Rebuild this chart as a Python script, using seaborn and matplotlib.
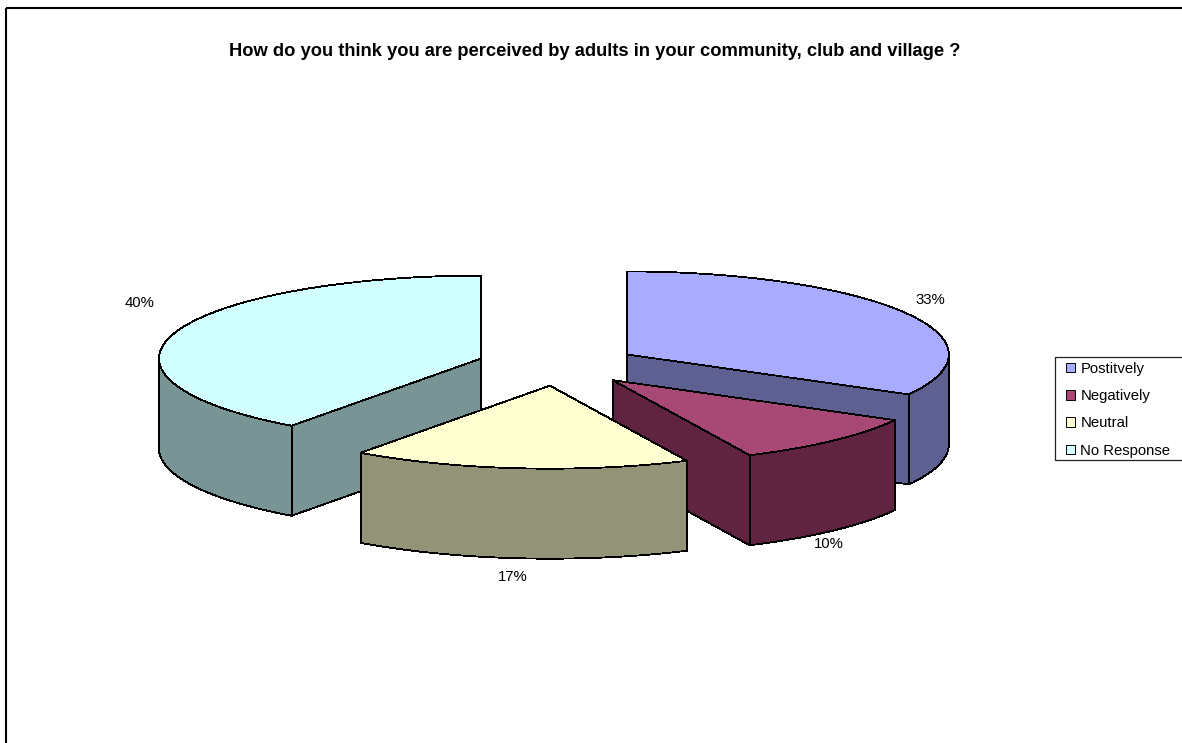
""" Exploded 3D style pie: how young people feel adults perceive them. """

import numpy as np
import matplotlib
matplotlib.use("Agg")
import matplotlib.pyplot as plt
from matplotlib.patches import Patch, Polygon, Rectangle
import seaborn as sns

# data
categories = ["Postitvely", "Negatively", "Neutral", "No Response"]
shares = [33, 10, 17, 40]
top_colors = ["#a8abff", "#a84874", "#ffffd2", "#d2ffff"]
wall_colors = ["#5f6092", "#612440", "#939377", "#799494"]
title = "How do you think you are perceived by adults in your community, club and village ?"

# layout, in pixels of the picture
cx, cy = 557.5, 365
rx, ry = 322, 83
depth = 90
explode = 0.25
label_xy = [(930, 300), (829, 544), (513, 577), (140, 303)]

sns.set_theme(style="white")
plt.rcParams["font.family"] = ["Liberation Sans", "DejaVu Sans"]

fig = plt.figure(figsize=(11.82, 7.43), dpi=100)
ax = fig.add_axes([0, 0, 1, 1])
ax.set_xlim(0, 1182)
ax.set_ylim(743, 0)
ax.axis("off")


def rim(x0, y0, a, b, drop=0):
    t = np.radians(np.linspace(a, b, 200))
    return np.column_stack([x0 + rx * np.sin(t), y0 - ry * np.cos(t) + drop])


def face(points, color, z):
    ax.add_patch(Polygon(points, closed=True, facecolor=color, edgecolor="black",
                         linewidth=0.6, antialiased=False, zorder=z))


# outer frame, runs off the right and bottom of the picture
ax.add_patch(Rectangle((6, 8), 1300, 900, fill=False, edgecolor="black", linewidth=1.5))

# slices, angles clockwise from 12 o'clock
ends = np.cumsum(shares) / np.sum(shares) * 360
starts = np.concatenate([[0], ends[:-1]])
mids = np.radians((starts + ends) / 2)
xs = cx + explode * rx * np.sin(mids)
ys = cy - explode * ry * np.cos(mids)

# back slices first so the front ones cover them
for z, i in enumerate(np.argsort(ys)):
    a, b = starts[i], ends[i]
    x0, y0 = xs[i], ys[i]
    base = 2 + z * 0.1
    # cut faces
    for ang in (a, b):
        edge = rim(x0, y0, ang, ang)[0]
        face([(x0, y0), edge, edge + (0, depth), (x0, y0 + depth)], wall_colors[i], base)
    # outer wall, only the part turned to the viewer
    lo, hi = max(a, 90), min(b, 270)
    if lo < hi:
        face(np.vstack([rim(x0, y0, lo, hi), rim(x0, y0, hi, lo, depth)]), wall_colors[i], base + 0.01)
    face(np.vstack([[(x0, y0)], rim(x0, y0, a, b)]), top_colors[i], base + 0.02)

for (lx, ly), val in zip(label_xy, shares):
    ax.text(lx, ly, f"{val}%", fontsize=10.7, color="black", ha="center", va="center")

ax.text(595, 52, title, fontsize=13.2, fontweight="bold", color="black", ha="center", va="center")

# legend box also runs off the right side
ax.add_patch(Rectangle((1054.5, 357), 200, 103, fill=False, edgecolor="#222222", linewidth=0.9))
handles = [Patch(facecolor=c, edgecolor="black", linewidth=0.7) for c in top_colors]
ax.legend(handles, categories, frameon=False, fontsize=10.7, loc="upper left",
          bbox_to_anchor=(1060.5, 356), bbox_transform=ax.transData,
          handlelength=0.6, handleheight=0.6, handletextpad=0.33, labelspacing=0.89,
          borderaxespad=0, borderpad=0.4, labelcolor="black")

fig.savefig("out.png", dpi=100)
